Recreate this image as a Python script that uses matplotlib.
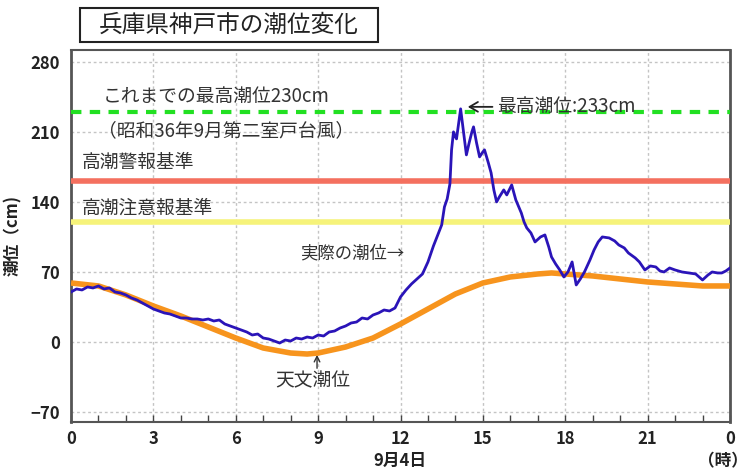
import matplotlib
matplotlib.use('Agg')
import matplotlib.pyplot as plt
from matplotlib.patches import Rectangle

plt.rcParams['font.family'] = ['Noto Sans CJK JP', 'DejaVu Sans']

# 実際の潮位 (hour, cm)
obs_hour = [0.0, 0.2, 0.4, 0.6, 0.8, 1.0, 1.2, 1.4, 1.6, 1.8, 2.0, 2.2, 2.4, 2.6, 2.8, 3.0,
            3.2, 3.4, 3.6, 3.8, 4.0, 4.2, 4.4, 4.6, 4.8, 5.0, 5.2, 5.4, 5.6, 5.8, 6.0, 6.2,
            6.4, 6.6, 6.8, 7.0, 7.2, 7.4, 7.6, 7.8, 8.0, 8.2, 8.4, 8.6, 8.8, 9.0, 9.2, 9.4,
            9.6, 9.8, 10.0, 10.2, 10.4, 10.6, 10.8, 11.0, 11.2, 11.4, 11.6, 11.8, 12.0, 12.2,
            12.4, 12.6, 12.8, 13.0, 13.2, 13.4, 13.5, 13.6, 13.7, 13.8, 13.86, 13.93, 14.0,
            14.04, 14.1, 14.19, 14.3, 14.4, 14.5, 14.6, 14.66, 14.77, 14.88, 15.0, 15.06,
            15.2, 15.3, 15.4, 15.5, 15.6, 15.76, 15.87, 16.05, 16.2, 16.4, 16.5, 16.6, 16.75,
            16.9, 17.1, 17.26, 17.4, 17.5, 17.65, 17.8, 17.95, 18.1, 18.25, 18.4, 18.55,
            18.7, 18.9, 19.05, 19.2, 19.35, 19.6, 19.8, 19.95, 20.15, 20.3, 20.55, 20.7,
            20.9, 21.1, 21.3, 21.45, 21.6, 21.8, 22.0, 22.25, 22.5, 22.75, 23.0, 23.2,
            23.35, 23.55, 23.7, 23.85, 24.0]
obs_level = [50, 53, 52, 55, 54, 56, 53, 54, 50, 49, 47, 44, 42, 39, 36, 33,
             31, 29, 28, 26, 24, 24, 23, 23, 22, 23, 21, 22, 18, 16, 14, 12,
             10, 7, 8, 4, 3, 1, -1, 2, 1, 4, 3, 5, 4, 7, 6, 10,
             11, 14, 16, 19, 20, 24, 23, 27, 29, 32, 31, 34, 45, 52,
             58, 63, 68, 80, 96, 110, 117, 135, 143, 158, 192, 210, 205,
             203, 215, 233, 209, 187, 199, 210, 215, 199, 185, 190, 192,
             179, 169, 152, 140, 145, 152, 147, 157, 142, 129, 120, 114, 109,
             100, 105, 107, 95, 85, 78, 72, 65, 70, 80, 57, 63,
             70, 82, 92, 100, 105, 104, 101, 97, 94, 89, 84, 80,
             72, 76, 75, 71, 70, 74, 72, 70, 69, 68, 62, 67,
             70, 69, 69, 71, 74]

# 天文潮位
astro_hour = [0, 1, 2, 3, 4, 5, 6, 7, 8, 8.6, 9, 10, 11, 12, 13, 14, 15, 16, 17, 17.5,
              18, 19, 20, 21, 22, 23, 24]
astro_level = [59, 56, 47, 36, 26, 15, 4, -6, -11, -12, -11, -5, 4, 18, 33, 48, 59, 65, 68, 69,
               68, 66, 63, 60, 58, 56, 56]

record_level = 230    # これまでの最高潮位
warning_level = 161   # 高潮警報基準
advisory_level = 120  # 高潮注意報基準

xticks = [0, 3, 6, 9, 12, 15, 18, 21, 24]
xtick_labels = ['0', '3', '6', '9', '12', '15', '18', '21', '0']
yticks = [-70, 0, 70, 140, 210, 280]

fig = plt.figure(figsize=(7.5, 4.7), dpi=100)
ax = fig.add_axes([0.0947, 0.102, 0.8786, 0.792])

txt = '#333333'

ax.axhline(record_level, color='#22e022', lw=3, ls=(0, (2.5, 2)), zorder=3)
ax.axhline(warning_level, color='#f4705f', lw=4, zorder=3)
ax.axhline(advisory_level, color='#f6f37a', lw=4, zorder=3)

ax.plot(astro_hour, astro_level, color='#f7941d', lw=4, solid_capstyle='butt', zorder=4)
ax.plot(obs_hour, obs_level, color='#2a14b8', lw=2, zorder=5)

ax.set_xlim(0, 24)
ax.set_ylim(-80, 292)
ax.set_xticks(xticks)
ax.set_xticklabels(xtick_labels)
ax.set_xticks(range(25), minor=True)
ax.set_yticks(yticks)
ax.tick_params(axis='x', which='both', direction='in', length=5, width=1, color='#444444')
ax.tick_params(axis='y', length=0, pad=8)
ax.tick_params(axis='x', pad=6)
for lab in ax.get_xticklabels() + ax.get_yticklabels():
    lab.set_fontweight('bold')
    lab.set_fontsize(12)
    lab.set_color('#222222')
ax.grid(True, which='major', color='#c4c4c4', ls=(0, (2, 2)), lw=1)
for sp in ax.spines.values():
    sp.set_color('#555555')
    sp.set_linewidth(1.5)
ax.spines['left'].set_linewidth(2)
ax.spines['right'].set_linewidth(2)

ax.text(1.17, 245, 'これまでの最高潮位230cm', fontsize=13.5, color=txt, va='center')
ax.text(1.0, 211, '（昭和36年9月第二室戸台風）', fontsize=13.5, color=txt, va='center')
ax.text(0.4, 179, '高潮警報基準', fontsize=13.5, color=txt, va='center')
ax.text(0.4, 134, '高潮注意報基準', fontsize=13.5, color=txt, va='center')

# peak label with a drawn arrow
ax.annotate('', xy=(14.35, 235), xytext=(15.45, 235),
            arrowprops=dict(arrowstyle='->,head_length=0.6,head_width=0.35', color='#222222', lw=1.3))
ax.text(15.5, 235, '最高潮位:233cm', fontsize=13.5, color=txt, va='center')

ax.text(8.35, 89, '実際の潮位→', fontsize=12.5, color=txt, va='center')
ax.text(7.45, -39, '天文潮位', fontsize=13.5, color=txt, va='center')
ax.annotate('', xy=(8.96, -10), xytext=(8.96, -29),
            arrowprops=dict(arrowstyle='->', color=txt, lw=1))

ax.set_ylabel('潮位（cm)', fontsize=12, fontweight='bold', color='#222222', labelpad=6)
fig.text(0.533, 1 - 461 / 470, '9月4日', fontsize=12, fontweight='bold', color='#222222',
         ha='center', va='center')
fig.text(0.997, 1 - 461 / 470, '（時）', fontsize=12, fontweight='bold', color='#222222',
         ha='right', va='center')

fig.patches.append(Rectangle((80 / 750, 1 - 42 / 470), 298 / 750, 34 / 470,
                             transform=fig.transFigure, fill=False, ec='#222222', lw=1.5))
fig.text(229 / 750, 1 - 25 / 470, '兵庫県神戸市の潮位変化', fontsize=17, color='#222222',
         ha='center', va='center')

fig.savefig('out.png', dpi=100)
